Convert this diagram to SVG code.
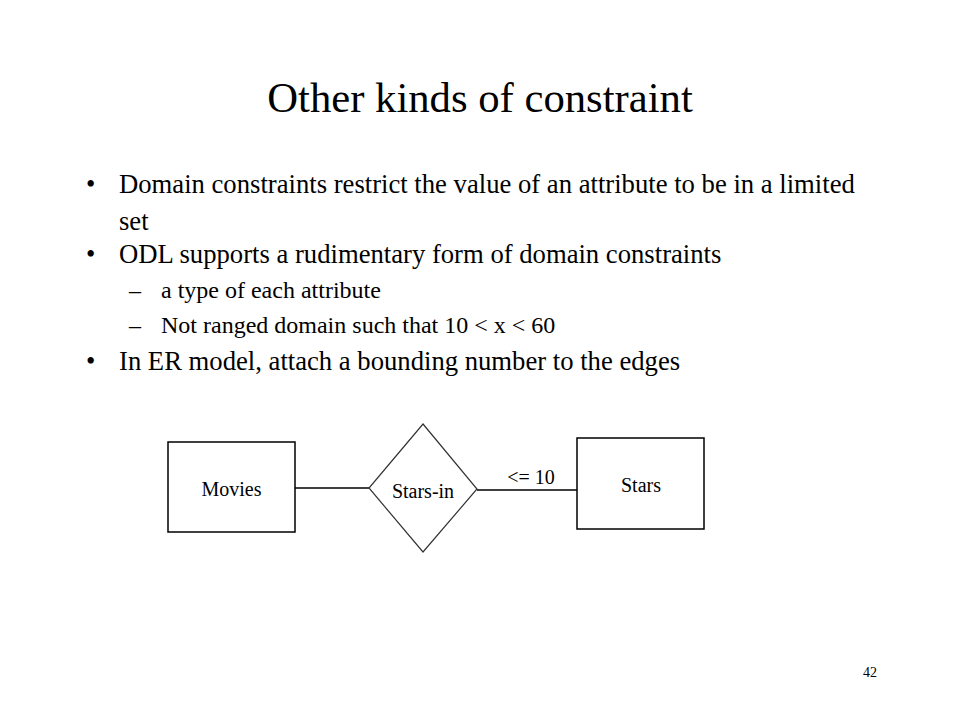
<svg xmlns="http://www.w3.org/2000/svg" width="960" height="720" viewBox="0 0 960 720">
<style>
text{font-family:"Liberation Serif","Times New Roman",serif;fill:#000}
.title{font-size:42.7px}
.main{font-size:26.67px}
.sub{font-size:24px}
.lbl{font-size:20px;text-anchor:middle}
.box{fill:#fff;stroke:#000;stroke-width:1.5}
.dia{fill:#fff;stroke:#333;stroke-width:1.2}
.edge{stroke:#000;stroke-width:1.5;fill:none}
</style>
<rect width="960" height="720" fill="#fff"/>
<text class="title" x="480" y="112" text-anchor="middle">Other kinds of constraint</text>
<g id="bullets">
<text class="main" x="86" y="193">•</text>
<text class="main" x="119" y="193">Domain constraints restrict the value of an attribute to be in a limited</text>
<text class="main" x="119" y="230">set</text>
<text class="main" x="86" y="263">•</text>
<text class="main" x="119" y="263">ODL supports a rudimentary form of domain constraints</text>
<text class="sub" x="129" y="298">–</text>
<text class="sub" x="161" y="298">a type of each attribute</text>
<text class="sub" x="129" y="333">–</text>
<text class="sub" x="161" y="333">Not ranged domain such that 10 &lt; x &lt; 60</text>
<text class="main" x="86" y="370">•</text>
<text class="main" x="119" y="370">In ER model, attach a bounding number to the edges</text>
</g>
<g id="connectors">
<line class="edge" x1="295" y1="488" x2="369" y2="488"/>
<line class="edge" x1="477" y1="490" x2="577" y2="490"/>
<text class="lbl" x="531" y="484">&lt;= 10</text>
</g>
<g id="movies">
<rect class="box" x="168" y="442" width="127" height="90"/>
<text class="lbl" x="231.5" y="496">Movies</text>
</g>
<g id="stars-in">
<polygon class="dia" points="423,424 477,489 423,552 369,488"/>
<text class="lbl" x="423" y="498">Stars-in</text>
</g>
<g id="stars">
<rect class="box" x="577" y="438" width="127" height="91"/>
<text class="lbl" x="641" y="492">Stars</text>
</g>
<text x="870" y="677" font-size="14" text-anchor="middle">42</text>
</svg>
